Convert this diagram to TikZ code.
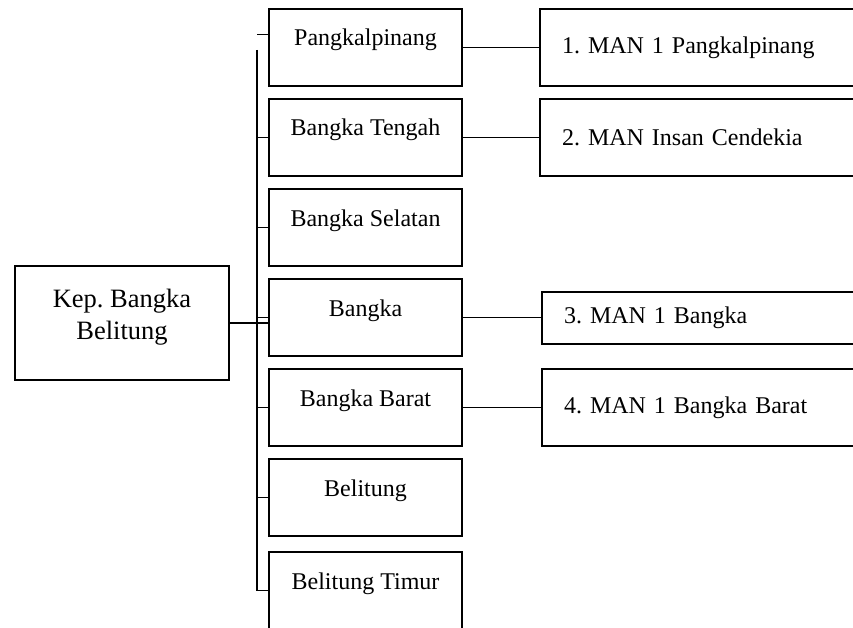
\documentclass[tikz,border=0pt]{standalone}
\usepackage{fontspec}
\setmainfont{Liberation Serif}
\usetikzlibrary{positioning}
\frenchspacing

\begin{document}
\begin{tikzpicture}[x=1pt,y=-1pt,
    prov/.style={draw,line width=2pt,minimum width=214pt,minimum height=114pt},
    kab/.style={draw,line width=2pt,minimum width=193pt,minimum height=77pt,text height=17pt,text depth=20pt,font=\fontsize{24}{29}\selectfont},
    man/.style={draw,line width=2pt,minimum width=330pt,minimum height=77pt,text width=286pt,inner xsep=22pt,align=left,font=\fontsize{24}{29}\selectfont},
    garis/.style={line width=1.3pt}]
    \path[use as bounding box,clip](0,0)rectangle(853,628);
    % provinsi
    \node[prov,label={[yshift=6pt,align=center,font=\fontsize{26.5}{32}\selectfont]center:Kep. Bangka\\Belitung}](kep)at(122,323){};
    % kabupaten / kota
    \node[kab,anchor=north west](pkp)at(268,8){Pangkalpinang};
    \node[kab,below=11pt of pkp](tengah){Bangka Tengah};
    \node[kab,below=11pt of tengah](selatan){Bangka Selatan};
    \node[kab,below=11pt of selatan](bangka){Bangka};
    \node[kab,below=11pt of bangka](barat){Bangka Barat};
    \node[kab,below=11pt of barat](belitung){Belitung};
    \node[kab,below=14pt of belitung](timur){Belitung Timur};
    % madrasah
    \node[man,right=76pt of pkp](man1){1. MAN 1 Pangkalpinang};
    \node[man,right=76pt of tengah](man2){2. MAN Insan Cendekia};
    \node[man,minimum height=52pt,right=78pt of bangka](man3){3. MAN 1 Bangka};
    \node[man,right=78pt of barat](man4){4. MAN 1 Bangka Barat};
    % garis
    \coordinate(atas)at(257,50);
    \draw[garis]([yshift=13pt]pkp.west)--++(-11,0);
    \draw[garis](atas)--(atas|-timur.west)--(timur.west);
    \foreach \k in {tengah,selatan,bangka,barat,belitung}
        \draw[garis](\k.west)--(\k.west-|atas);
    \draw[garis](kep.east)--(kep.east-|bangka.west);
    \draw[garis](pkp.east)--(man1.west);
    \draw[garis](tengah.east)--(man2.west);
    \draw[garis](bangka.east)--(man3.west);
    \draw[garis](barat.east)--(man4.west);
\end{tikzpicture}
\end{document}
